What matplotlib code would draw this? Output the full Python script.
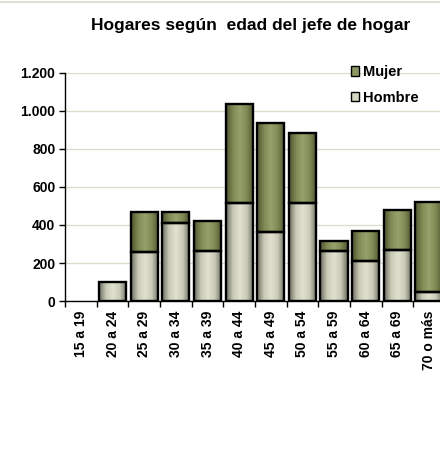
import numpy as np
import matplotlib
matplotlib.use("Agg")
import matplotlib.pyplot as plt
from matplotlib.colors import LinearSegmentedColormap
from matplotlib.patches import Patch
from matplotlib.lines import Line2D
from matplotlib.ticker import FuncFormatter, FixedLocator

plt.rcParams['font.family'] = ['Liberation Sans', 'DejaVu Sans']

# datos
grupos = ['15 a 19', '20 a 24', '25 a 29', '30 a 34', '35 a 39', '40 a 44',
          '45 a 49', '50 a 54', '55 a 59', '60 a 64', '65 a 69', '70 o más']
hombre = [0, 100, 260, 412, 264, 516, 362, 516, 261, 209, 267, 49]
mujer = [0, 0, 207, 56, 155, 519, 573, 367, 53, 158, 210, 472]

# gradientes horizontales (oscuro en los bordes, claro al centro)
cmap_h = LinearSegmentedColormap.from_list('h', ['#6e6e62', '#c9cab6', '#e0e1cf', '#c9cab6', '#6e6e62'])
cmap_m = LinearSegmentedColormap.from_list('m', ['#4e5530', '#7f8a55', '#96a26b', '#7f8a55', '#4e5530'])

fig = plt.figure(figsize=(4.4, 4.5), dpi=100)
ax = fig.add_axes([0.148, 0.331, 0.863, 0.507])

x = np.arange(len(grupos))
ancho = 0.86
b_h = ax.bar(x, hombre, width=ancho, color='none', edgecolor='black', linewidth=1.7, zorder=3)
b_m = ax.bar(x, mujer, width=ancho, bottom=hombre, color='none', edgecolor='black', linewidth=1.7, zorder=3)

grad = np.linspace(0, 1, 64).reshape(1, -1)
for barras, cmap in ((b_h, cmap_h), (b_m, cmap_m)):
    for p in barras:
        if p.get_height() <= 0:
            p.set_linewidth(0)
            continue
        x0, y0 = p.get_x(), p.get_y()
        im = ax.imshow(grad, cmap=cmap, aspect='auto', zorder=2,
                       extent=(x0, x0 + p.get_width(), y0, y0 + p.get_height()))
        im.set_clip_path(p)

ax.set_xlim(-0.5, len(grupos) - 0.5)
ax.set_ylim(0, 1200)
ax.set_yticks(range(0, 1201, 200))
ax.yaxis.set_major_formatter(FuncFormatter(lambda v, _: f'{int(v):,}'.replace(',', '.')))
ax.grid(axis='y', color='#dcdccf', linewidth=1, zorder=0)
ax.set_axisbelow(True)

ax.set_xticks(x)
ax.set_xticklabels(grupos, rotation=90, fontweight='bold', fontsize=10)
ax.xaxis.set_minor_locator(FixedLocator(np.arange(-0.5, len(grupos), 1)))
ax.tick_params(axis='x', which='major', length=0, pad=7)
ax.tick_params(axis='x', which='minor', length=4, width=1)
ax.tick_params(axis='y', length=4, width=1, labelsize=10, pad=3)
for t in ax.get_yticklabels():
    t.set_fontweight('bold')

for s in ('top', 'right'):
    ax.spines[s].set_visible(False)
ax.spines['left'].set_linewidth(1)
ax.spines['bottom'].set_linewidth(1)

fig.text(0.57, 0.944, 'Hogares según  edad del jefe de hogar', ha='center', va='center',
         fontsize=12.5, fontweight='bold')

# borde superior del área del gráfico
fig.add_artist(Line2D([0, 1], [0.996, 0.996], color='#d8d8cc', linewidth=1.2))

handles = [Patch(facecolor='#8c9862', edgecolor='black', label='Mujer'),
           Patch(facecolor='#d6d7c3', edgecolor='black', label='Hombre')]
fig.legend(handles=handles, loc='upper left', bbox_to_anchor=(0.797, 0.855), frameon=False,
           prop={'weight': 'bold', 'size': 10.5}, handlelength=0.6, handleheight=0.6,
           handletextpad=0.25, labelspacing=0.8, borderaxespad=0, borderpad=0)

fig.savefig('out.png', dpi=100)
